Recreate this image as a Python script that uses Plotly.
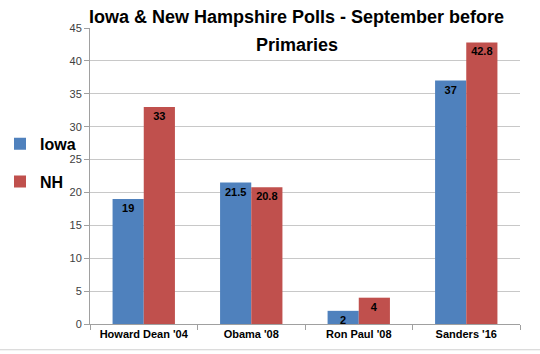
import plotly.graph_objects as go

categories = ["Howard Dean '04", "Obama '08", "Ron Paul '08", "Sanders '16"]
iowa = [19, 21.5, 2, 37]
nh = [33, 20.8, 4, 42.8]
y_ticks = [0, 5, 10, 15, 20, 25, 30, 35, 40, 45]
title_lines = ["Iowa & New Hampshire Polls - September before", "Primaries"]

FONT = "Liberation Sans"

fig = go.Figure()
for name, vals, color in [("Iowa", iowa, "#4F81BD"), ("NH", nh, "#C0504D")]:
    fig.add_trace(go.Bar(
        x=categories, y=vals, name=name, legendgroup=name,
        marker=dict(color=color, line=dict(width=0)),
        text=[str(v) for v in vals],
        textposition="inside", insidetextanchor="end",
        textangle=0,
        textfont=dict(family=FONT, size=11, color="black", weight="bold"),
        cliponaxis=False,
    ))

fig.update_layout(
    width=540, height=354,
    margin=dict(l=90, r=20, t=28, b=30, autoexpand=False),
    paper_bgcolor="white", plot_bgcolor="white",
    barmode="group", bargap=0.42, bargroupgap=0,
    uniformtext=dict(minsize=11, mode="show"),
    legend=dict(xref="container", yref="container", x=0.0, y=0.54,
                xanchor="left", yanchor="middle",
                font=dict(family=FONT, size=16, color="black", weight="bold"),
                tracegroupgap=14, bgcolor="rgba(0,0,0,0)", itemwidth=30,
                borderwidth=0),
    xaxis=dict(showline=True, linecolor="#A0A0A0", linewidth=1,
               ticks="outside", tickcolor="#A0A0A0", ticklen=5,
               tickson="boundaries",
               tickfont=dict(family=FONT, size=11, color="black", weight="bold")),
    yaxis=dict(range=[0, 45], tickvals=y_ticks, showgrid=True, gridcolor="#C8C8C8",
               showline=True, linecolor="#A0A0A0", linewidth=1,
               ticks="outside", tickcolor="#A0A0A0", ticklen=5,
               zeroline=False,
               tickfont=dict(family=FONT, size=11, color="#404040")),
    showlegend=True,
)
for txt, yp in zip(title_lines, [1.037, 0.943]):
    fig.add_annotation(text="<b>%s</b>" % txt, xref="paper", yref="paper", x=0.481, y=yp,
                       xanchor="center", yanchor="middle", showarrow=False,
                       font=dict(family=FONT, size=18, color="black"))
fig.add_shape(type="line", xref="paper", yref="paper", x0=-0.21, x1=1.05, y0=-0.087, y1=-0.087,
              line=dict(color="#D0D0D0", width=1))

fig.write_html("out.html")
